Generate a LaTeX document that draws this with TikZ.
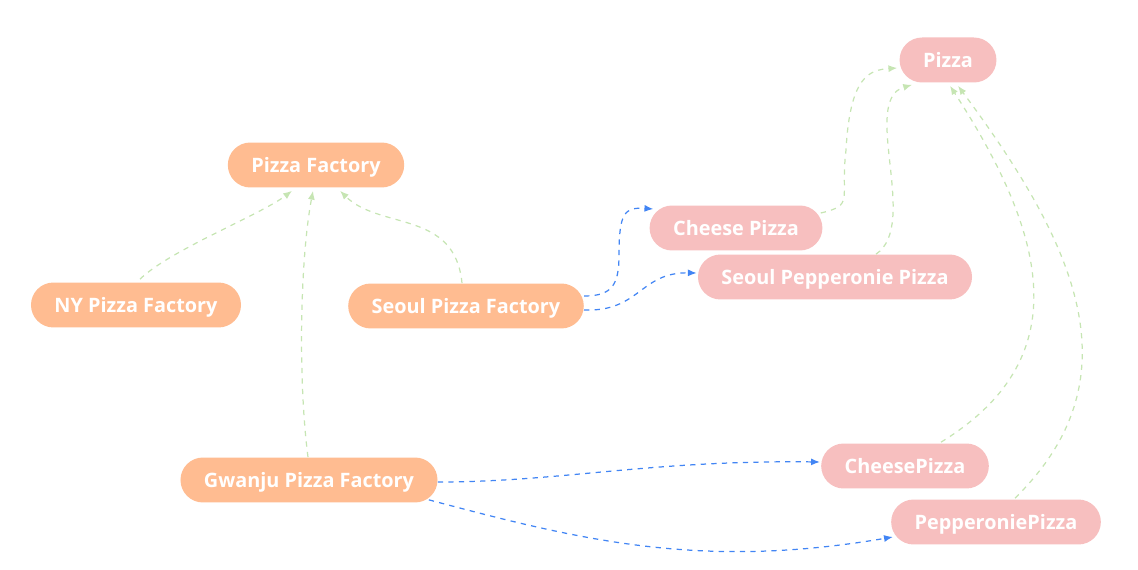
\documentclass[tikz,border=0pt]{standalone}
\usepackage{fontspec}
\setmainfont{Open Sans}
\usetikzlibrary{arrows.meta,calc}
\definecolor{factorycol}{HTML}{FFBC91}
\definecolor{pizzacol}{HTML}{F7BFBF}
\definecolor{greenline}{HTML}{C6E5B3}
\definecolor{blueline}{HTML}{4285F4}
\begin{document}
\begin{tikzpicture}[x=0.02cm,y=-0.02cm]
		\tikzset{factorynode/.style={fill=factorycol, rounded corners=0.45cm, minimum height=0.9cm, inner xsep=0.47cm, text height=8.5pt, text depth=0pt, text=white, font=\bfseries\fontsize{11.3}{13}\selectfont}}
		\tikzset{pizzanode/.style={factorynode, fill=pizzacol}}
		\tikzset{inherit/.style={draw=greenline, dashed, line width=0.7pt, -{Latex[length=5pt,width=4pt]}}}
		\tikzset{create/.style={draw=blueline, dashed, line width=0.7pt, -{Latex[length=5pt,width=4pt]}}}
		\useasboundingbox (0,0) rectangle (1138,570);

		\node[factorynode] (PF) at (316,165) {Pizza Factory};
		\node[factorynode] (NY) at (136,305) {NY Pizza Factory};
		\node[factorynode] (SF) at (466,306) {Seoul Pizza Factory};
		\node[factorynode] (GW) at (309,480) {Gwanju Pizza Factory};

		\node[pizzanode] (PZ) at (948,60) {Pizza};
		\node[pizzanode] (CP) at (736,228) {Cheese Pizza};
		\node[pizzanode] (SPP) at (835,277) {Seoul Pepperonie Pizza};
		\node[pizzanode] (CHP) at (905,466) {CheesePizza};
		\node[pizzanode] (PP) at (996,522) {PepperoniePizza};

    % factories
    \draw[inherit] ($(NY.north)+(4,-3)$) .. controls (170,250) and (260,215) .. ($(PF.south)+(-24,3)$);
    \draw[inherit] ($(GW.north)+(-1,0)$) .. controls (298,380) and (300,260) .. ($(PF.south)+(-3,3)$);
    \draw[inherit] ($(SF.north)+(-4,0)$) .. controls (455,210) and (380,230) .. ($(PF.south)+(24,3)$);

    % pizzas
    \draw[inherit] ($(CP.east)+(-2,-15)$) .. controls (855,205) and (840,200) .. (846,150) .. controls (850,75) and (870,70) .. ($(PZ.west)+(-2,8)$);
    \draw[inherit] ($(SPP.north)+(41,0)$) .. controls (920,225) and (860,100) .. ($(PZ.south)+(-36,2)$);
    \draw[inherit] ($(CHP.north)+(36,-1)$) .. controls (1075,360) and (1050,240) .. ($(PZ.south)+(2,3)$);
    \draw[inherit] ($(PP.north)+(19,-1)$) .. controls (1135,380) and (1080,250) .. ($(PZ.south)+(10,3)$);

    % create
    \draw[create] ($(SF.east)+(0,-10)$) .. controls (612,296) and (619,285) .. (619,255) .. controls (619,212) and (625,207) .. ($(CP.west)+(4,-19)$);
    \draw[create] ($(SF.east)+(0,4)$) .. controls (640,312) and (640,272) .. ($(SPP.west)+(-1,-4)$);
    \draw[create] ($(GW.east)+(0,2)$) .. controls (560,482) and (650,460) .. ($(CHP.west)+(-1,-4)$);
    \draw[create] ($(GW.south east)+(-9,-3)$) .. controls (580,540) and (700,570) .. ($(PP.west)+(2,15)$);

		\end{tikzpicture}
\end{document}
